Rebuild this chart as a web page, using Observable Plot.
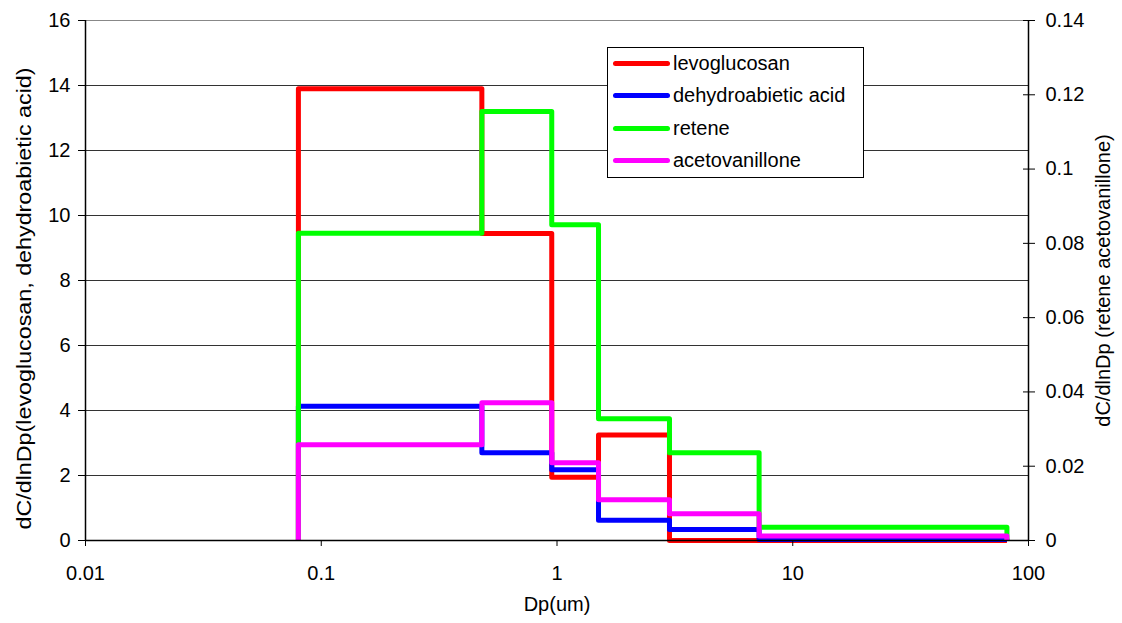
<!DOCTYPE html>
<html><head><meta charset="utf-8">
<script src="https://cdn.jsdelivr.net/npm/d3@7"></script>
<script src="https://cdn.jsdelivr.net/npm/@observablehq/plot@0.6"></script>
<style>
body{margin:0;background:#fff;font-family:"Liberation Sans",Arial,sans-serif;}
#chart{position:relative;width:1122px;height:623px;}
#legend{position:absolute;left:607px;top:47px;width:257px;height:131px;border:1px solid #000;background:#fff;box-sizing:border-box;}
.item{position:absolute;left:5px;height:22px;display:flex;align-items:center;font-size:20px;color:#000;white-space:nowrap;}
.swatch{width:57px;height:5px;border-radius:2.5px;margin-right:3px;}
</style></head><body><div id="chart"></div>
<script>
// Bin edges of the size distribution (Dp, um)
const edges = [0.08, 0.48, 0.95, 1.5, 3.0, 7.2, 81];
// Left axis series
const levoglucosan = [13.9, 9.45, 1.95, 3.25, 0, 0];
const dehydroabieticAcid = [4.13, 2.70, 2.18, 0.62, 0.34, 0.03];
// Right axis series
const retene = [0.0827, 0.1155, 0.085, 0.0328, 0.0236, 0.0036];
const acetovanillone = [0.0258, 0.0371, 0.0209, 0.011, 0.0072, 0.0012];

const seriesNames = ["levoglucosan", "dehydroabietic acid", "retene", "acetovanillone"];
const seriesColors = ["#FF0000", "#0000FF", "#00FF00", "#FF00FF"];
const leftTicks = [0, 2, 4, 6, 8, 10, 12, 14, 16];
const rightTicks = [0, 0.02, 0.04, 0.06, 0.08, 0.1, 0.12, 0.14];
const xTicks = [0.01, 0.1, 1, 10, 100];
const xLabel = "Dp(um)";
const yLeftLabel = "dC/dlnDp(levoglucosan, dehydroabietic acid)";
const yRightLabel = "dC/dlnDp (retene acetovanillone)";

const leftMax = 16, rightMax = 0.14;
const k = leftMax / rightMax;
const FS = 20;

function stepRows(name, values, scale) {
  const rows = [{series: name, x: edges[0], y: 0}];
  values.forEach((v, i) => rows.push({series: name, x: edges[i], y: v * scale}));
  rows.push({series: name, x: edges[edges.length - 1], y: 0});
  return rows;
}
const allSeries = [
  stepRows(seriesNames[0], levoglucosan, 1),
  stepRows(seriesNames[1], dehydroabieticAcid, 1),
  stepRows(seriesNames[2], retene, k),
  stepRows(seriesNames[3], acetovanillone, k)
];

const plot = Plot.plot({
  width: 1122,
  height: 623,
  marginLeft: 85,
  marginRight: 94,
  marginTop: 20,
  marginBottom: 83,
  style: {fontFamily: '"Liberation Sans", Arial, sans-serif', fontSize: FS + "px", color: "#000", background: "#fff", overflow: "visible"},
  x: {type: "log", domain: [0.01, 100], axis: null},
  y: {domain: [0, leftMax], axis: null},
  marks: [
    Plot.ruleY(leftTicks.filter(t => t > 0 && t < leftMax), {stroke: "#333", strokeWidth: 1}),
    Plot.ruleY([leftMax], {stroke: "#888", strokeWidth: 1}),
    ...allSeries.map((rows, i) => Plot.line(rows, {
      x: "x", y: "y", curve: "step-after",
      stroke: seriesColors[i], strokeWidth: 5, strokeLinejoin: "round", strokeLinecap: "butt"
    })),
    Plot.ruleY([0], {stroke: "#000", strokeWidth: 1.5}),
    Plot.ruleX([0.01, 100], {stroke: "#000", strokeWidth: 1.5}),
    Plot.axisX({ticks: xTicks, tickFormat: d => String(d), tickSize: 6, tickPadding: 19, label: null, fontSize: FS}),
    Plot.axisY({anchor: "left", ticks: leftTicks, tickFormat: d => String(d), tickSize: 7, tickPadding: 8, label: null, fontSize: FS}),
    Plot.axisY({anchor: "right", ticks: rightTicks.map(t => t * k), tickFormat: d => String(+(d / k).toFixed(2)),
      tickSize: 12, dx: -6, tickPadding: 11, label: null, fontSize: FS}),
    Plot.text([yLeftLabel], {frameAnchor: "left", textAnchor: "middle", rotate: -90, dx: -61, dy: 18, fontSize: FS, text: d => d}),
    Plot.text([yRightLabel], {frameAnchor: "right", textAnchor: "middle", rotate: -90, dx: 75, fontSize: FS, text: d => d}),
    Plot.text([xLabel], {frameAnchor: "bottom", dy: 70, fontSize: FS, text: d => d})
  ]
});

// The left axis title is drawn stretched along its length in the reference
d3.select(plot).selectAll("text")
  .filter(function() { return this.textContent === yLeftLabel; })
  .attr("textLength", 462)
  .attr("lengthAdjust", "spacingAndGlyphs");

const chart = document.getElementById("chart");
chart.appendChild(plot);

const legend = document.createElement("div");
legend.id = "legend";
const rowTops = [4, 36, 69, 101];
seriesNames.forEach((name, i) => {
  const item = document.createElement("div");
  item.className = "item";
  item.style.top = rowTops[i] + "px";
  const sw = document.createElement("div");
  sw.className = "swatch";
  sw.style.background = seriesColors[i];
  const label = document.createElement("span");
  label.textContent = name;
  item.appendChild(sw);
  item.appendChild(label);
  legend.appendChild(item);
});
chart.appendChild(legend);
</script>
</body></html>
